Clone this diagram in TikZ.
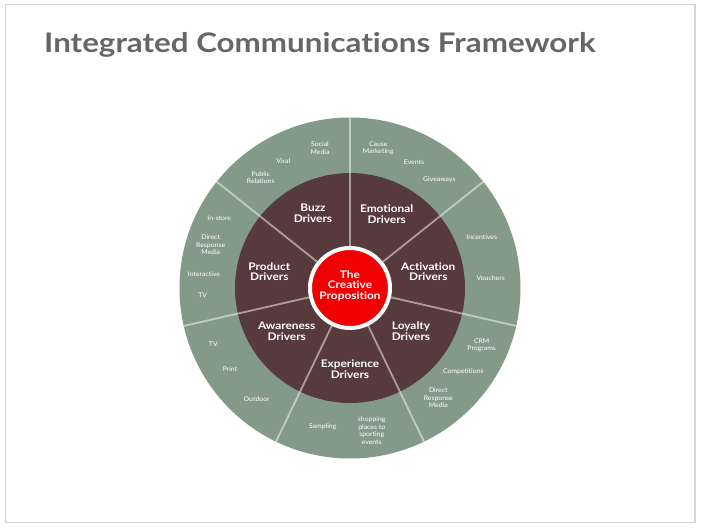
\documentclass[tikz,border=0pt]{standalone}
\usepackage{fontspec}
\setmainfont{Lato}[Ligatures={NoCommon}]
\newfontfamily\titlefont[FakeStretch=1.16,Ligatures={NoCommon}]{Lato}
\newfontfamily\driverfont[FakeStretch=1.13,Ligatures={NoCommon}]{Lato}
\newfontfamily\smallfont[FakeStretch=1.06,Ligatures={NoCommon}]{Lato}
\usetikzlibrary{calc}
\definecolor{ringgreen}{RGB}{132,154,137}
\definecolor{ringdark}{RGB}{87,58,60}
\definecolor{corered}{RGB}{240,0,0}
\definecolor{titlegray}{RGB}{102,102,102}
\definecolor{framegray}{RGB}{212,212,212}
\begin{document}
\begin{tikzpicture}[x=1pt,y=-1pt,
  small/.style={text=white, font=\smallfont\fontsize{6.5}{7.5}\selectfont, align=center, inner sep=0},
  driver/.style={text=white, font=\driverfont\bfseries\fontsize{10.5}{10.5}\selectfont, align=center, inner sep=0},
  divider/.style={draw=white, draw opacity=0.5, line width=1.8pt}]
\useasboundingbox (0,0) rectangle (702,530);
\draw[framegray, line width=1.5pt] (5.5,4.5) rectangle (695,522.5);
\node[anchor=base west, inner sep=0, text=titlegray, font=\titlefont\bfseries\fontsize{27}{27}\selectfont] (title) at (44,52) {Integrated Communications Framework};
\coordinate (c) at (350,288);
\fill[ringgreen] (c) circle (170.5);
\fill[ringdark] (c) circle (115);
\foreach \k in {0,...,6} {
  \coordinate (d\k) at ($(c)+({-(90+\k*360/7)}:170.5)$);
  \draw[divider] (c) -- (d\k);
}
\node[circle, fill=corered, draw=white, line width=4pt, minimum size=80pt, inner sep=0] (core) at (c) {};
\node[driver] (coretext) at (350,285.5) {The\\Creative\\Proposition};
% drivers
\node[driver] (buzz) at (313,213) {Buzz\\Drivers};
\node[driver] (emotional) at (386.7,214) {Emotional\\Drivers};
\node[driver] (activation) at (428.3,271.7) {Activation\\Drivers};
\node[driver] (loyalty) at (411,331) {Loyalty\\Drivers};
\node[driver] (experience) at (350,369) {Experience\\Drivers};
\node[driver] (awareness) at (286.7,331) {Awareness\\Drivers};
\node[driver] (product) at (269.3,271.7) {Product\\Drivers};
% outer labels
\node[small] (socialmedia) at (320,148.3) {Social\\Media};
\node[small] (viral) at (283.3,160.7) {Viral};
\node[small] (pr) at (260.7,177.7) {Public\\Relations};
\node[small] (instore) at (219.3,218.3) {In-store};
\node[small] (drm1) at (210.7,245) {Direct\\Response\\Media};
\node[small] (interactive) at (204,274) {Interactive};
\node[small] (tv1) at (202.7,295) {TV};
\node[small] (cause) at (378.3,148.3) {Cause\\Marketing};
\node[small] (events) at (414,161.7) {Events};
\node[small] (giveaways) at (439.3,179.3) {Giveaways};
\node[small] (incentives) at (481.7,236.7) {Incentives};
\node[small] (vouchers) at (490.7,278.3) {Vouchers};
\node[small] (tv2) at (213.3,344.3) {TV};
\node[small] (print) at (230,369.3) {Print};
\node[small] (outdoor) at (256.7,399) {Outdoor};
\node[small] (sampling) at (322.7,426.7) {Sampling};
\node[small] (crm) at (481.7,345) {CRM\\Programs};
\node[small] (competitions) at (463.3,372) {Competitions};
\node[small] (drm2) at (438.3,397.7) {Direct\\Response\\Media};
\node[small] (shopping) at (371.7,430.7) {shopping\\places to\\sporting\\events};
\end{tikzpicture}
\end{document}
